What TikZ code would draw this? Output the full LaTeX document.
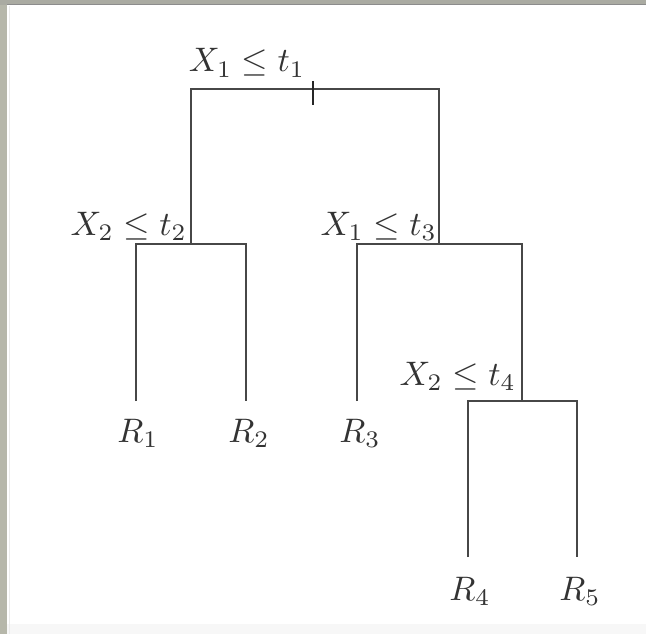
\documentclass[tikz,border=0pt]{standalone}
\definecolor{framegray}{RGB}{182,183,170}
\definecolor{frametop}{RGB}{170,171,162}
\newcommand{\treelabel}[1]{\scalebox{3.4}{$#1$}}
\begin{document}
\begin{tikzpicture}[x=1pt,y=-1pt,
  edge/.style={draw=black!72, line width=2pt},
  lbl/.style={inner sep=0pt, text=black!80},
  leaf/.style={lbl, anchor=base}]
\useasboundingbox (0,0) rectangle (646,634);
% frame
\fill[white] (0,0) rectangle (646,634);
\fill[black!3] (0,624) rectangle (646,634);
\fill[framegray] (0,0) rectangle (7,634);
\fill[frametop] (0,0) rectangle (646,5);
\draw[black!45, line width=1pt] (7,4.5) -- (646,4.5);
\draw[black!8, line width=1.5pt] (9.5,6) -- (9.5,634);
% coordinates of tree
\coordinate (n1l) at (191,89);
\coordinate (n1r) at (439,89);
\coordinate (tick) at (313,89);
\coordinate (n2) at (191,244);
\coordinate (n2l) at (136,244);
\coordinate (n2r) at (246,244);
\coordinate (n3) at (439,244);
\coordinate (n3l) at (357,244);
\coordinate (n3r) at (522,244);
\coordinate (n4) at (522,401);
\coordinate (n4l) at (468,401);
\coordinate (n4r) at (577,401);
\coordinate (r1) at (136,401);
\coordinate (r2) at (246,401);
\coordinate (r3) at (357,401);
\coordinate (r4) at (468,557);
\coordinate (r5) at (577,557);
% labels
\node[lbl, anchor=base] (t1) at (247,72) {\treelabel{X_1\leq t_1}};
\node[lbl, anchor=base east] (t2) at (187,235) {\treelabel{X_2\leq t_2}};
\node[lbl, anchor=base east] (t3) at (437,235) {\treelabel{X_1\leq t_3}};
\node[lbl, anchor=base east] (t4) at (516,385) {\treelabel{X_2\leq t_4}};
\node[leaf] (R1) at (138,442) {\treelabel{R_1}};
\node[leaf] (R2) at (249,442) {\treelabel{R_2}};
\node[leaf] (R3) at (360,442) {\treelabel{R_3}};
\node[leaf] (R4) at (470,600) {\treelabel{R_4}};
\node[leaf] (R5) at (580,600) {\treelabel{R_5}};
% edges
\draw[edge] (n2) -- (n1l) -- (n1r) -- (n3);
\draw[edge] (r1) -- (n2l) -- (n2r) -- (r2);
\draw[edge] (r3) -- (n3l) -- (n3r) -- (n4);
\draw[edge] (r4) -- (n4l) -- (n4r) -- (r5);
\draw[black!85, line width=2.5pt] ([yshift=8]tick) -- ([yshift=-16]tick);
\end{tikzpicture}
\end{document}
